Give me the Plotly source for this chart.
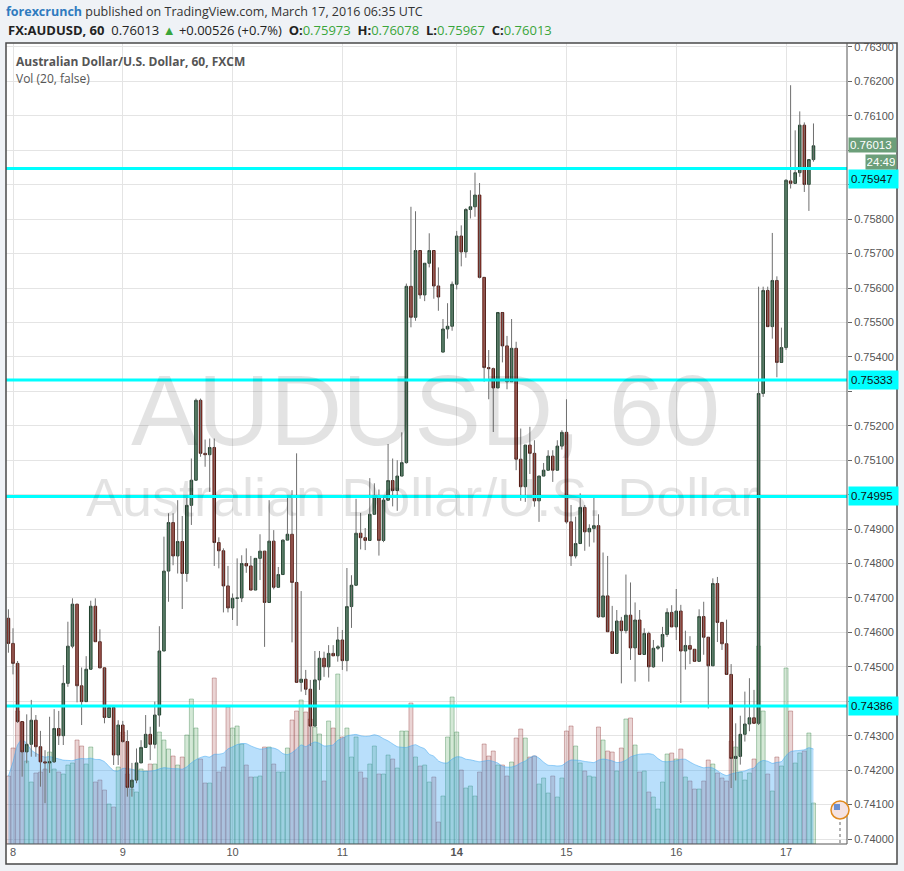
import pandas as pd
import plotly.graph_objects as go

# ---------------- data (AUD/USD, 1h candles, FXCM) ----------------
seg1 = pd.date_range("2016-03-07 23:00", "2016-03-11 21:00", freq="h")
seg2 = pd.date_range("2016-03-13 21:00", "2016-03-17 06:00", freq="h")
times = list(seg1) + list(seg2)

open_ = [0.74641, 0.74568, 0.74510, 0.74341, 0.74253, 0.74275, 0.74345, 0.74268, 0.74224, 0.74221,
         0.74224, 0.74321, 0.74300, 0.74452, 0.74560, 0.74682, 0.74445, 0.74399, 0.74493, 0.74676,
         0.74573, 0.74497, 0.74353, 0.74382, 0.74244, 0.74331, 0.74283, 0.74150, 0.74171, 0.74221,
         0.74266, 0.74304, 0.74275, 0.74360, 0.74546, 0.74778, 0.74919, 0.74822, 0.74864, 0.74771,
         0.74969, 0.75042, 0.75274, 0.75120, 0.75116, 0.75137, 0.74861, 0.74837, 0.74735, 0.74671,
         0.74699, 0.74700, 0.74800, 0.74793, 0.74723, 0.74815, 0.74836, 0.74687, 0.74865, 0.74731,
         0.74768, 0.74868, 0.74885, 0.74745, 0.74455, 0.74464, 0.74435, 0.74328, 0.74462, 0.74525,
         0.74500, 0.74539, 0.74532, 0.74578, 0.74518, 0.74675, 0.74737, 0.74888, 0.74875, 0.74867,
         0.74943, 0.74995, 0.74867, 0.74984, 0.75041, 0.75012, 0.75054, 0.75093, 0.75605, 0.75515,
         0.75709, 0.75580, 0.75672, 0.75709, 0.75606, 0.75414, 0.75481, 0.75489, 0.75611, 0.75751,
         0.75705, 0.75828, 0.75836, 0.75870, 0.75631, 0.75369, 0.75366, 0.75310, 0.75529, 0.75432,
         0.75328, 0.75425, 0.75103, 0.75023, 0.75144, 0.75120, 0.74982, 0.75054, 0.75071, 0.75112,
         0.75071, 0.75141, 0.75181, 0.74921, 0.74822, 0.74858, 0.74963, 0.74892, 0.74902, 0.74910,
         0.74645, 0.74706, 0.74602, 0.74539, 0.74633, 0.74605, 0.74650, 0.74555, 0.74636, 0.74536,
         0.74597, 0.74500, 0.74554, 0.74558, 0.74594, 0.74658, 0.74616, 0.74662, 0.74546, 0.74562,
         0.74551, 0.74516, 0.74646, 0.74586, 0.74503, 0.74742, 0.74629, 0.74567, 0.74478, 0.74234,
         0.74240, 0.74304, 0.74334, 0.74352, 0.74336, 0.75294, 0.75593, 0.75488, 0.75622, 0.75384,
         0.75427, 0.75911, 0.75904, 0.75935, 0.76073, 0.75901, 0.75973]

high = [0.74667, 0.74612, 0.74517, 0.74341, 0.74362, 0.74404, 0.74360, 0.74314, 0.74258, 0.74355,
        0.74377, 0.74372, 0.74505, 0.74631, 0.74699, 0.74682, 0.74498, 0.74531, 0.74692, 0.74699,
        0.74609, 0.74497, 0.74382, 0.74382, 0.74345, 0.74343, 0.74316, 0.74221, 0.74263, 0.74287,
        0.74360, 0.74326, 0.74399, 0.74618, 0.74878, 0.74946, 0.74946, 0.74984, 0.74938, 0.74994,
        0.75105, 0.75279, 0.75279, 0.75160, 0.75163, 0.75163, 0.74876, 0.74844, 0.74793, 0.74713,
        0.74815, 0.74824, 0.74844, 0.74822, 0.74815, 0.74885, 0.74836, 0.74984, 0.74897, 0.74790,
        0.74870, 0.74994, 0.75013, 0.75120, 0.74720, 0.74491, 0.74462, 0.74546, 0.74546, 0.74544,
        0.74563, 0.74563, 0.74616, 0.74607, 0.74787, 0.74766, 0.74988, 0.74947, 0.74903, 0.75048,
        0.75033, 0.75015, 0.74997, 0.75147, 0.75105, 0.75100, 0.75181, 0.75613, 0.75836, 0.75823,
        0.75709, 0.75672, 0.75759, 0.75709, 0.75660, 0.75510, 0.75556, 0.75619, 0.75766, 0.75782,
        0.75832, 0.75884, 0.75935, 0.75905, 0.75631, 0.75420, 0.75369, 0.75529, 0.75529, 0.75461,
        0.75510, 0.75444, 0.75192, 0.75144, 0.75197, 0.75158, 0.75054, 0.75092, 0.75129, 0.75129,
        0.75158, 0.75187, 0.75277, 0.74970, 0.74936, 0.75004, 0.74970, 0.74914, 0.74992, 0.74943,
        0.74832, 0.74822, 0.74677, 0.74665, 0.74645, 0.74768, 0.74745, 0.74687, 0.74665, 0.74612,
        0.74602, 0.74578, 0.74563, 0.74616, 0.74670, 0.74679, 0.74726, 0.74680, 0.74605, 0.74589,
        0.74551, 0.74667, 0.74689, 0.74586, 0.74757, 0.74761, 0.74629, 0.74637, 0.74508, 0.74336,
        0.74358, 0.74428, 0.74467, 0.74433, 0.75604, 0.75604, 0.75604, 0.75760, 0.75634, 0.75485,
        0.75916, 0.76189, 0.76058, 0.76113, 0.76081, 0.75973, 0.76078]

low = [0.74541, 0.74478, 0.74337, 0.74181, 0.74220, 0.74239, 0.74239, 0.74152, 0.74104, 0.74192,
       0.74221, 0.74273, 0.74273, 0.74442, 0.74554, 0.74397, 0.74331, 0.74399, 0.74493, 0.74573,
       0.74497, 0.74336, 0.74353, 0.74215, 0.74215, 0.74280, 0.74123, 0.74123, 0.74162, 0.74221,
       0.74266, 0.74229, 0.74263, 0.74326, 0.74546, 0.74689, 0.74795, 0.74771, 0.74668, 0.74747,
       0.74912, 0.75042, 0.75110, 0.75081, 0.75008, 0.74793, 0.74786, 0.74658, 0.74658, 0.74636,
       0.74619, 0.74688, 0.74773, 0.74723, 0.74723, 0.74752, 0.74558, 0.74687, 0.74725, 0.74731,
       0.74768, 0.74868, 0.74571, 0.74455, 0.74428, 0.74418, 0.74270, 0.74328, 0.74433, 0.74471,
       0.74469, 0.74532, 0.74515, 0.74491, 0.74487, 0.74613, 0.74737, 0.74841, 0.74839, 0.74867,
       0.74943, 0.74823, 0.74862, 0.74984, 0.74966, 0.74953, 0.75054, 0.75090, 0.75486, 0.75505,
       0.75569, 0.75562, 0.75660, 0.75569, 0.75534, 0.75414, 0.75453, 0.75476, 0.75596, 0.75663,
       0.75688, 0.75802, 0.75807, 0.75628, 0.75328, 0.75277, 0.75182, 0.75310, 0.75384, 0.75306,
       0.75328, 0.75071, 0.74982, 0.74979, 0.75060, 0.74965, 0.74921, 0.75054, 0.75071, 0.75037,
       0.75071, 0.75131, 0.74916, 0.74793, 0.74815, 0.74858, 0.74837, 0.74849, 0.74861, 0.74642,
       0.74645, 0.74602, 0.74539, 0.74539, 0.74452, 0.74597, 0.74520, 0.74457, 0.74536, 0.74536,
       0.74457, 0.74497, 0.74549, 0.74515, 0.74587, 0.74616, 0.74578, 0.74395, 0.74492, 0.74508,
       0.74516, 0.74516, 0.74535, 0.74379, 0.74503, 0.74572, 0.74549, 0.74478, 0.74148, 0.74170,
       0.74216, 0.74283, 0.74313, 0.74336, 0.74331, 0.75284, 0.75488, 0.75453, 0.75341, 0.75384,
       0.75420, 0.75889, 0.75904, 0.75923, 0.75879, 0.75824, 0.75967]

close = [0.74568, 0.74510, 0.74341, 0.74253, 0.74275, 0.74345, 0.74268, 0.74224, 0.74221, 0.74224,
         0.74321, 0.74300, 0.74452, 0.74560, 0.74682, 0.74445, 0.74399, 0.74493, 0.74676, 0.74573,
         0.74497, 0.74353, 0.74382, 0.74244, 0.74331, 0.74283, 0.74150, 0.74171, 0.74221, 0.74266,
         0.74304, 0.74275, 0.74360, 0.74546, 0.74778, 0.74919, 0.74822, 0.74864, 0.74771, 0.74969,
         0.75042, 0.75274, 0.75120, 0.75116, 0.75137, 0.74861, 0.74837, 0.74735, 0.74671, 0.74699,
         0.74700, 0.74800, 0.74793, 0.74723, 0.74815, 0.74836, 0.74687, 0.74865, 0.74731, 0.74768,
         0.74868, 0.74885, 0.74745, 0.74455, 0.74464, 0.74435, 0.74328, 0.74462, 0.74525, 0.74500,
         0.74539, 0.74532, 0.74578, 0.74518, 0.74675, 0.74737, 0.74888, 0.74875, 0.74867, 0.74943,
         0.74995, 0.74867, 0.74984, 0.75041, 0.75012, 0.75054, 0.75093, 0.75605, 0.75515, 0.75709,
         0.75580, 0.75672, 0.75709, 0.75606, 0.75574, 0.75481, 0.75489, 0.75611, 0.75751, 0.75705,
         0.75828, 0.75836, 0.75870, 0.75631, 0.75369, 0.75366, 0.75310, 0.75529, 0.75432, 0.75328,
         0.75425, 0.75103, 0.75023, 0.75144, 0.75120, 0.74982, 0.75054, 0.75071, 0.75112, 0.75071,
         0.75141, 0.75181, 0.74921, 0.74822, 0.74858, 0.74963, 0.74892, 0.74902, 0.74910, 0.74645,
         0.74706, 0.74602, 0.74539, 0.74633, 0.74605, 0.74650, 0.74555, 0.74636, 0.74536, 0.74597,
         0.74500, 0.74554, 0.74558, 0.74594, 0.74658, 0.74616, 0.74662, 0.74546, 0.74562, 0.74551,
         0.74516, 0.74646, 0.74586, 0.74503, 0.74742, 0.74629, 0.74567, 0.74478, 0.74234, 0.74240,
         0.74304, 0.74334, 0.74352, 0.74336, 0.75294, 0.75593, 0.75488, 0.75622, 0.75384, 0.75427,
         0.75913, 0.75904, 0.75935, 0.76073, 0.75901, 0.75973, 0.76013]

volume = [68, 96, 133, 122, 83, 62, 71, 72, 75, 92, 75, 72, 70, 79, 81, 104, 98, 80, 97, 62,
          64, 54, 40, 37, 77, 112, 70, 55, 52, 75, 73, 80, 80, 112, 104, 95, 88, 79, 87, 109,
          145, 116, 85, 61, 61, 166, 72, 77, 137, 116, 118, 100, 79, 67, 67, 68, 97, 97, 80, 72,
          72, 96, 124, 133, 144, 132, 125, 117, 110, 63, 123, 116, 170, 107, 116, 87, 107, 72, 66, 80,
          98, 70, 70, 89, 85, 76, 113, 113, 141, 87, 78, 79, 62, 67, 22, 48, 107, 147, 112, 74,
          56, 58, 48, 72, 100, 88, 93, 79, 79, 68, 82, 106, 115, 106, 87, 88, 60, 66, 51, 68,
          47, 66, 113, 118, 98, 81, 73, 68, 67, 117, 104, 93, 92, 73, 96, 125, 126, 99, 72, 73,
          52, 47, 35, 62, 90, 91, 85, 95, 67, 63, 55, 55, 63, 84, 80, 71, 66, 63, 103, 97,
          72, 64, 71, 85, 198, 133, 70, 53, 87, 78, 176, 133, 81, 91, 93, 111, 41]

levels = [0.75947, 0.75333, 0.74995, 0.74386]
level_shift = [-10, 0, 0, 0]
price_ticks = [0.740, 0.741, 0.742, 0.743, 0.744, 0.745, 0.746, 0.747, 0.748, 0.749, 0.750, 0.751,
               0.752, 0.753, 0.754, 0.755, 0.756, 0.757, 0.758, 0.759, 0.760, 0.761, 0.762, 0.763]
hidden_ticks = [0.744, 0.750, 0.753, 0.759, 0.760]   # covered by the coloured price labels
day_change = "+0.00526 (+0.7%)"
countdown = "24:49"

# ---------------- derived ----------------
idx = list(range(len(times)))
up = [c >= o for o, c in zip(open_, close)]
body_hi = [max(o, c) for o, c in zip(open_, close)]
body_lo = [min(o, c) for o, c in zip(open_, close)]
vol_ma = pd.Series(volume).rolling(20, min_periods=1).mean().tolist()
tickvals = [i for i, t in enumerate(times) if t.hour == 0]
ticktext = [("<b>%d</b>" % times[i].day) if times[i].weekday() == 0 else str(times[i].day) for i in tickvals]
ptext = ["" if any(abs(p - h) < 1e-9 for h in hidden_ticks) else "%.5f" % p for p in price_ticks]

wx, wy = [], []
for i, h, l in zip(idx, high, low):
    wx += [i, i, None]
    wy += [l, h, None]

GREEN_UP = "#3f8f5f"
RED_DN = "#cc3b2c"

fig = go.Figure()

# volume MA area + volume bars (base axes)
fig.add_trace(go.Scatter(x=idx, y=vol_ma, mode="lines", line=dict(color="rgba(70,170,240,0.55)", width=1, shape="spline", smoothing=0.6),
                         fill="tozeroy", fillcolor="rgba(60,165,245,0.36)", hoverinfo="skip", showlegend=False))
fig.add_trace(go.Bar(x=idx, y=volume,
                     marker=dict(color=["rgba(60,150,70,0.22)" if u else "rgba(160,60,60,0.22)" for u in up],
                                 line=dict(color=["rgba(40,120,60,0.35)" if u else "rgba(140,50,50,0.35)" for u in up], width=1)),
                     hoverinfo="skip", showlegend=False))

# wicks
fig.add_trace(go.Scatter(x=wx, y=wy, yaxis="y2", mode="lines", line=dict(color="#6f6f6f", width=1),
                         hoverinfo="skip", showlegend=False))
# bodies
fig.add_trace(go.Candlestick(x=idx, open=open_, high=body_hi, low=body_lo, close=close, yaxis="y2",
                             increasing=dict(fillcolor=GREEN_UP, line=dict(color="#1f3f2c", width=1)),
                             decreasing=dict(fillcolor=RED_DN, line=dict(color="#4e1710", width=1)),
                             whiskerwidth=0, showlegend=False, hoverinfo="skip"))

# horizontal support / resistance levels
for lv in levels:
    fig.add_shape(type="line", xref="paper", x0=0, x1=1, yref="y2", y0=lv, y1=lv,
                  line=dict(color="#00ffff", width=3))

PX_W = 841.0
PX_H = 801.0
def px(xp):
    return (xp - 6) / PX_W
def py(yp):
    return (844 - yp) / PX_H

# outer frame (white card) and borders
fig.add_shape(type="rect", xref="paper", yref="paper", x0=px(6), x1=px(897), y0=py(864), y1=py(43),
              fillcolor="white", line=dict(width=0), layer="below")
fig.add_shape(type="rect", xref="paper", yref="paper", x0=px(6), x1=px(897), y0=py(864), y1=py(43),
              fillcolor="rgba(0,0,0,0)", line=dict(color="#4a4a4a", width=1.5))
fig.add_shape(type="line", xref="paper", yref="paper", x0=1, x1=1, y0=0, y1=1, line=dict(color="#555", width=1))
fig.add_shape(type="line", xref="paper", yref="paper", x0=0, x1=1, y0=0, y1=0, line=dict(color="#555", width=1))

# event marker (US flag bubble)
fig.add_shape(type="line", xref="paper", yref="paper", x0=px(840), x1=px(840), y0=py(843), y1=py(818),
              line=dict(color="#999", width=1.5, dash="dot"))
fig.add_shape(type="circle", xref="paper", yref="paper", x0=px(831), x1=px(849), y0=py(819), y1=py(801),
              fillcolor="#f4e2e2", line=dict(color="#e08a1e", width=1.5))
fig.add_shape(type="rect", xref="paper", yref="paper", x0=px(834), x1=px(840), y0=py(810), y1=py(804),
              fillcolor="#6a8fd0", line=dict(width=0))

ann = []
# header
ann.append(dict(xref="paper", yref="paper", x=px(4), y=py(12), xanchor="left", yanchor="middle", showarrow=False,
                text="<span style='color:#2f7bbf'><b>forexcrunch</b></span> published on TradingView.com, March 17, 2016 06:35 UTC",
                font=dict(family="Open Sans", size=12.5, color="#333")))
g = "#3aa53a"
sp = "&nbsp;"
hdr2 = ("<b>FX:AUDUSD, 60</b>" + sp * 2 + "%.5f <span style='color:%s'>▲</span> %s" + sp * 2 +
        "<b>O:</b><span style='color:%s'>%.5f</span>" + sp * 2 +
        "<b>H:</b><span style='color:%s'>%.5f</span>" + sp * 2 +
        "<b>L:</b><span style='color:%s'>%.5f</span>" + sp * 2 +
        "<b>C:</b><span style='color:%s'>%.5f</span>") % (close[-1], g, day_change, g, open_[-1], g, high[-1], g, low[-1], g, close[-1])
ann.append(dict(xref="paper", yref="paper", x=px(6), y=py(30), xanchor="left", yanchor="middle", showarrow=False,
                text=hdr2, font=dict(family="Open Sans", size=13, color="#222")))
# in-chart titles
ann.append(dict(xref="paper", yref="paper", x=px(14), y=py(61), xanchor="left", yanchor="middle", showarrow=False,
                text="<b>Australian Dollar/U.S. Dollar, 60, FXCM</b>", font=dict(family="Open Sans", size=12, color="#555")))
ann.append(dict(xref="paper", yref="paper", x=px(14), y=py(78), xanchor="left", yanchor="middle", showarrow=False,
                text="Vol (20, false)", font=dict(family="Open Sans", size=12, color="#555")))
# watermark
ann.append(dict(xref="paper", yref="paper", x=px(425), y=py(410), xanchor="center", yanchor="middle", showarrow=False,
                text="AUDUSD, 60", font=dict(family="Liberation Sans", size=100, color="rgba(0,0,0,0.11)")))
ann.append(dict(xref="paper", yref="paper", x=px(422), y=py(497), xanchor="center", yanchor="middle", showarrow=False,
                text="Australian Dollar/U.S. Dollar", font=dict(family="Liberation Sans", size=54, color="rgba(0,0,0,0.11)")))
# level labels
for lv, sh in zip(levels, level_shift):
    ann.append(dict(xref="paper", yref="y2", x=1, y=lv, xanchor="left", yanchor="middle", showarrow=False,
                    yshift=sh, xshift=1, text="%.5f" % lv, bgcolor="#00ffff", width=45, height=14, borderpad=2,
                    align="left", font=dict(family="Liberation Sans", size=11.5, color="#111")))
# last price + countdown
ann.append(dict(xref="paper", yref="y2", x=1, y=close[-1], xanchor="left", yanchor="middle", showarrow=False,
                yshift=1, xshift=1, text="%.5f" % close[-1], bgcolor="#6c9f7a", width=45, height=12, borderpad=1,
                align="left", font=dict(family="Liberation Sans", size=11.5, color="white")))
ann.append(dict(xref="paper", yref="y2", x=px(897), y=close[-1], xanchor="right", yanchor="middle", showarrow=False,
                yshift=-16, text=countdown, bgcolor="#6c9f7a", width=28, height=12, borderpad=1,
                align="center", font=dict(family="Liberation Sans", size=11.5, color="white")))

fig.update_layout(
    width=904, height=871,
    margin=dict(l=6, r=57, t=43, b=27),
    paper_bgcolor="#eff2f6", plot_bgcolor="white",
    showlegend=False, bargap=0.12, boxgap=0.2,
    xaxis=dict(range=[-0.53, 183.33], tickvals=tickvals, ticktext=ticktext, showgrid=True, gridcolor="#e4e4e4",
               zeroline=False, showline=False, ticks="", rangeslider=dict(visible=False),
               tickfont=dict(family="Liberation Sans", size=11, color="#555")),
    yaxis=dict(range=[0, 801], visible=False, fixedrange=True),
    yaxis2=dict(overlaying="y", side="right", range=[0.739855, 0.763116], tickmode="array",
                tickvals=price_ticks, ticktext=ptext, showgrid=True, gridcolor="#e4e4e4", zeroline=False, showline=False,
                ticks="outside", ticklen=4, tickcolor="#666",
                tickfont=dict(family="Liberation Sans", size=11, color="#555")),
    annotations=ann,
)

fig.write_html("out.html", config={"displayModeBar": False},
               post_script="document.body.style.margin='0px';document.body.style.overflow='hidden';")
